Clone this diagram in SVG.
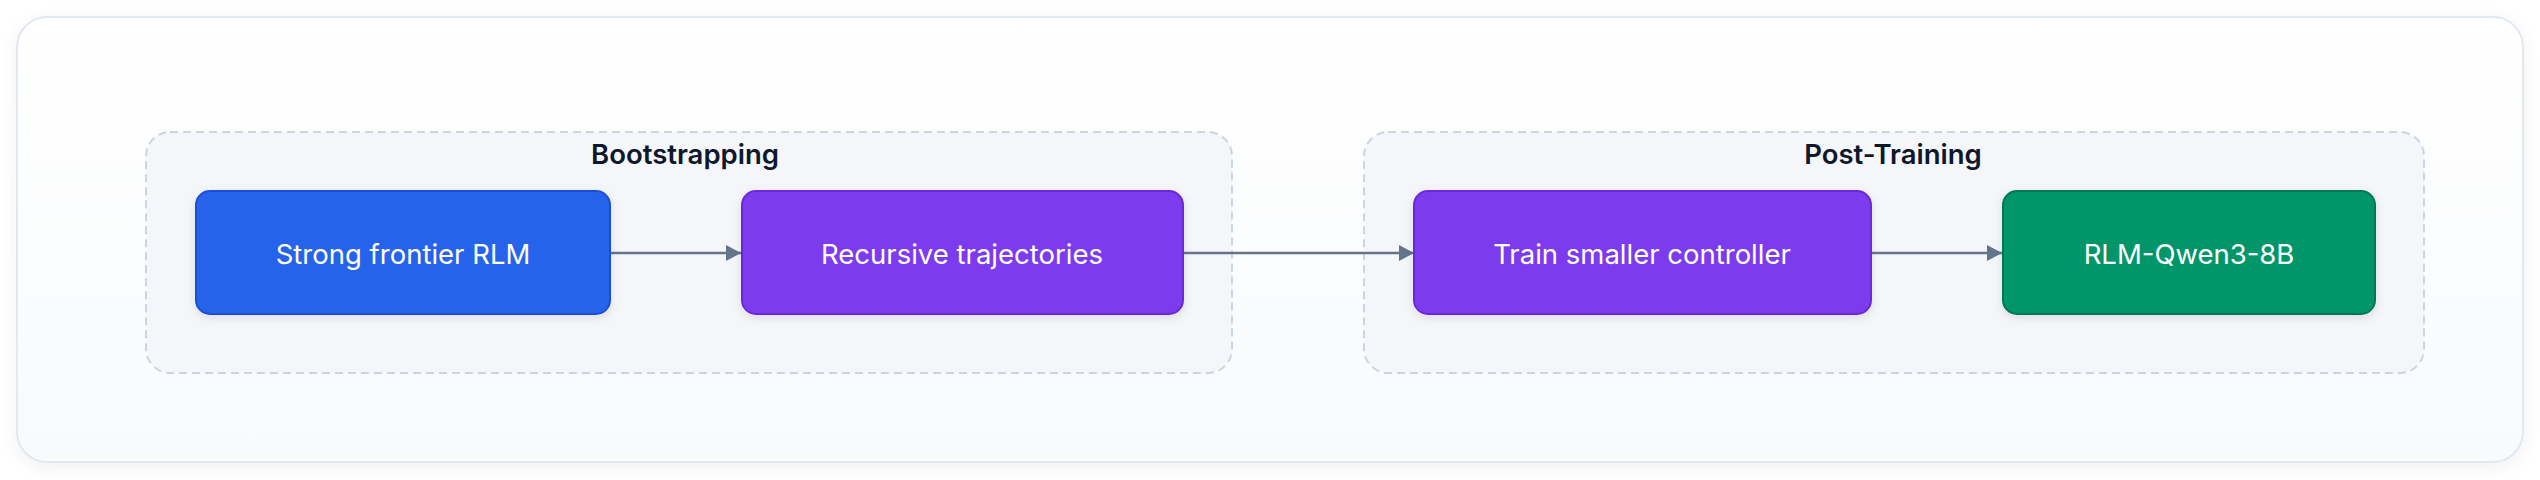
<svg xmlns="http://www.w3.org/2000/svg" width="2540" height="480" viewBox="0 0 2540 480">
  <defs>
    <linearGradient id="bg" x1="0" y1="0" x2="0" y2="1">
      <stop offset="0" stop-color="#ffffff"/>
      <stop offset="1" stop-color="#f8fafc"/>
    </linearGradient>
    <filter id="outerShadow" x="-5%" y="-20%" width="110%" height="140%">
      <feDropShadow dx="0" dy="4" stdDeviation="8" flood-color="#0f172a" flood-opacity="0.06"/>
    </filter>
    <filter id="nodeShadow" x="-10%" y="-20%" width="120%" height="150%">
      <feDropShadow dx="0" dy="3" stdDeviation="5" flood-color="#0f172a" flood-opacity="0.10"/>
    </filter>
    <marker id="arrow" viewBox="0 0 15 16" refX="15" refY="8" markerWidth="15" markerHeight="16" markerUnits="userSpaceOnUse" orient="auto">
      <path d="M0,0 L15,8 L0,16 Z" fill="#64748b"/>
    </marker>
  </defs>
  <style>
    .group { fill: #f4f6fa; stroke: #cbd5e1; stroke-width: 2; stroke-dasharray: 8 5; }
    .glabel { font-family: Inter, "Liberation Sans", sans-serif; font-size: 27.5px; font-weight: 600; fill: #0f172a; text-anchor: middle; }
    .node rect { stroke-width: 2; filter: url(#nodeShadow); }
    .node text { font-family: Inter, "Liberation Sans", sans-serif; font-size: 27.5px; fill: #ffffff; text-anchor: middle; }
    .blue { fill: #2563eb; stroke: #1d4ed8; }
    .purple { fill: #7c3aed; stroke: #6d28d9; }
    .green { fill: #059669; stroke: #047857; }
    .edge { stroke: #64748b; stroke-width: 2.5; fill: none; marker-end: url(#arrow); }
  </style>
  <rect x="0" y="0" width="2540" height="480" fill="#ffffff"/>
  <rect x="17" y="17" width="2506" height="445" rx="30" fill="url(#bg)" stroke="#e2e8f0" stroke-width="2" filter="url(#outerShadow)"/>

  <g id="group-bootstrapping">
    <rect class="group" x="146" y="132" width="1086" height="241" rx="24"/>
    <text class="glabel" x="685" y="164">Bootstrapping</text>
  </g>
  <g id="group-post-training">
    <rect class="group" x="1364" y="132" width="1060" height="241" rx="24"/>
    <text class="glabel" x="1893" y="164">Post-Training</text>
  </g>

  <g id="connectors">
    <line class="edge" x1="611" y1="253" x2="741" y2="253"/>
    <line class="edge" x1="1183" y1="253" x2="1414" y2="253"/>
    <line class="edge" x1="1871" y1="253" x2="2002" y2="253"/>
  </g>

  <g id="node-strong-frontier" class="node">
    <rect class="blue" x="196" y="191" width="414" height="123" rx="14"/>
    <text x="403" y="263.5">Strong frontier RLM</text>
  </g>
  <g id="node-recursive-trajectories" class="node">
    <rect class="purple" x="742" y="191" width="441" height="123" rx="14"/>
    <text x="962" y="263.5">Recursive trajectories</text>
  </g>
  <g id="node-train-smaller" class="node">
    <rect class="purple" x="1414" y="191" width="457" height="123" rx="14"/>
    <text x="1642" y="263.5">Train smaller controller</text>
  </g>
  <g id="node-rlm-qwen" class="node">
    <rect class="green" x="2003" y="191" width="372" height="123" rx="14"/>
    <text x="2189" y="263.5">RLM-Qwen3-8B</text>
  </g>
</svg>
